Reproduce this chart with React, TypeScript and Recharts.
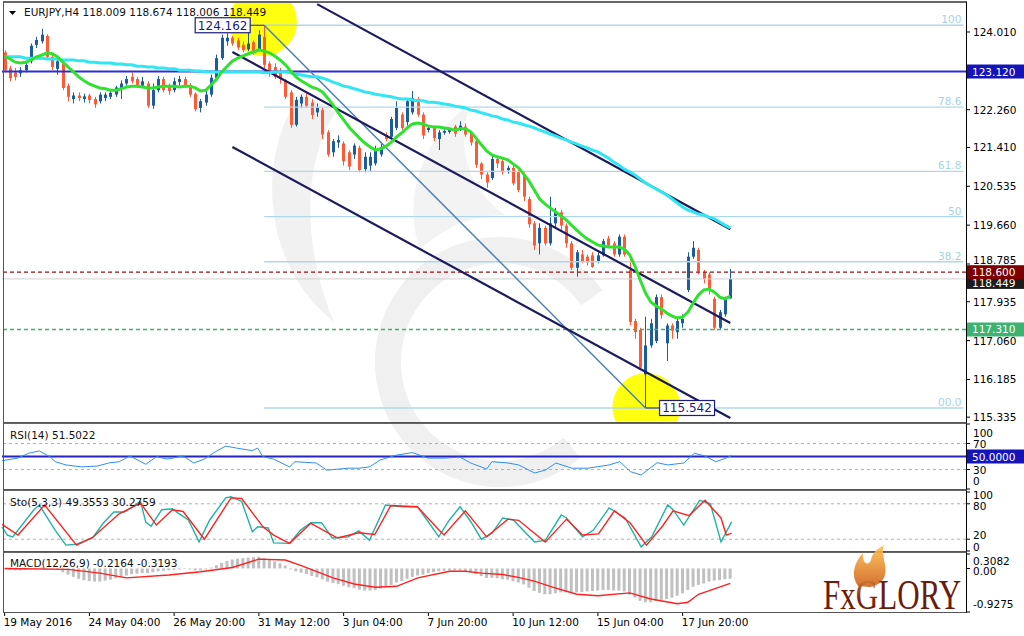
import React from 'react';
import { ComposedChart, Bar, Line, XAxis, YAxis, ReferenceLine, ReferenceDot } from 'recharts';

const FONT = '"DejaVu Sans", Verdana, sans-serif';
const W = 1024;
const SLOTS = 182; // bars + empty space to the right (chart shift)
const AXIS_X = 966;

// EURJPY H4 candles, 19 May -> 20 Jun 2016
const opens = [
  123.55, 123.19, 123.10, 123.08, 123.15, 123.35, 123.72, 123.80, 123.92, 123.45,
  123.18, 123.30, 122.80, 122.50, 122.58, 122.50, 122.58, 122.50, 122.45, 122.52,
  122.55, 122.60, 122.72, 122.85, 123.00, 122.95, 122.80, 122.85, 122.35, 122.70,
  122.95, 122.80, 122.70, 122.88, 122.95, 122.82, 122.62, 122.30, 122.42, 122.60,
  122.98, 123.42, 123.80, 123.88, 123.82, 123.72, 123.62, 123.78, 123.62, 123.90,
  123.30, 123.22, 123.12, 122.92, 122.65, 121.92, 122.40, 122.55, 122.42, 122.20,
  122.25, 121.75, 121.30, 121.52, 121.50, 121.30, 121.25, 121.40, 120.92, 121.00,
  121.05, 121.25, 121.68, 121.65, 121.85, 122.15, 121.98, 122.20, 122.50, 122.15,
  121.80, 121.85, 121.60, 121.74, 121.76, 121.88, 121.82, 121.88, 121.75, 121.55,
  121.05, 120.80, 120.72, 121.15, 121.10, 120.90, 120.95, 120.85, 120.80, 120.25,
  119.70, 119.25, 119.60, 119.25, 119.70, 119.95, 119.65, 119.25, 118.70, 119.00,
  118.95, 118.98, 118.85, 118.98, 119.36, 119.25, 119.00, 119.40, 118.65, 117.50,
  117.30, 116.30, 116.95, 117.05, 118.04, 117.00, 117.40, 117.25, 117.45, 118.20,
  118.95, 119.10, 118.60, 118.55, 118.00, 117.35, 117.65, 118.009,
];
const highs = [
  123.60, 123.25, 123.20, 123.22, 123.32, 123.75, 123.90, 124.08, 123.96, 123.50,
  123.40, 123.35, 122.85, 122.65, 122.65, 122.62, 122.62, 122.55, 122.65, 122.65,
  122.70, 122.80, 122.92, 123.02, 123.10, 123.00, 123.00, 122.90, 122.85, 123.02,
  123.00, 122.85, 122.98, 123.02, 123.00, 122.86, 122.65, 122.50, 122.70, 123.05,
  123.50, 123.95, 123.98, 123.92, 123.88, 123.80, 124.10, 123.82, 124.05, 124.162,
  123.35, 123.30, 123.20, 122.95, 122.70, 122.55, 122.60, 122.65, 122.50, 122.40,
  122.30, 121.80, 121.60, 121.68, 121.55, 121.35, 121.50, 121.45, 121.30, 121.30,
  121.45, 121.50, 121.75, 122.10, 122.45, 122.20, 122.50, 122.68, 122.55, 122.20,
  121.90, 121.90, 121.80, 121.82, 121.85, 121.92, 122.00, 121.95, 121.78, 121.60,
  121.08, 120.85, 121.22, 121.20, 121.15, 121.00, 121.00, 120.90, 120.85, 120.30,
  119.75, 119.70, 119.65, 120.30, 120.05, 120.00, 119.70, 119.30, 119.10, 119.10,
  119.00, 119.05, 119.05, 119.35, 119.42, 119.30, 119.45, 119.45, 119.00, 117.55,
  117.35, 117.60, 117.55, 118.10, 118.10, 117.45, 117.45, 117.60, 117.65, 119.05,
  119.30, 119.15, 118.65, 118.60, 118.05, 117.75, 118.05, 118.674,
];
const lows = [
  123.10, 122.90, 122.92, 123.00, 123.10, 123.30, 123.65, 123.75, 123.40, 123.15,
  123.05, 122.70, 122.45, 122.40, 122.45, 122.42, 122.40, 122.30, 122.40, 122.45,
  122.50, 122.55, 122.50, 122.80, 122.85, 122.75, 122.75, 122.30, 122.28, 122.65,
  122.65, 122.60, 122.65, 122.80, 122.75, 122.55, 122.22, 122.20, 122.35, 122.55,
  122.90, 123.38, 123.70, 123.70, 123.60, 123.55, 123.58, 123.50, 123.58, 123.20,
  123.00, 122.95, 122.85, 122.50, 121.85, 121.88, 122.30, 122.30, 122.05, 122.10,
  121.60, 121.20, 121.20, 121.40, 121.00, 120.90, 121.15, 120.85, 120.85, 120.88,
  121.00, 121.20, 121.55, 121.60, 121.80, 121.80, 121.90, 122.15, 122.10, 121.60,
  121.75, 121.55, 121.35, 121.70, 121.72, 121.65, 121.78, 121.65, 121.45, 120.95,
  120.70, 120.50, 120.68, 120.95, 120.80, 120.82, 120.55, 120.40, 120.20, 119.60,
  119.10, 119.00, 119.20, 119.20, 119.60, 119.55, 119.15, 118.65, 118.50, 118.80,
  118.75, 118.70, 118.80, 118.95, 119.15, 118.95, 118.95, 118.95, 117.40, 117.10,
  116.40, 115.542, 116.90, 117.00, 117.55, 116.60, 117.10, 117.10, 117.35, 118.15,
  118.90, 118.55, 118.35, 118.10, 117.30, 117.30, 117.60, 118.006,
];
const closes = [
  123.15, 122.97, 123.00, 123.15, 123.27, 123.70, 123.83, 123.95, 123.45, 123.22,
  123.35, 122.75, 122.55, 122.58, 122.52, 122.56, 122.48, 122.38, 122.60, 122.60,
  122.64, 122.76, 122.85, 122.95, 122.90, 122.82, 122.90, 122.35, 122.70, 122.95,
  122.70, 122.68, 122.90, 122.95, 122.80, 122.60, 122.27, 122.45, 122.60, 122.98,
  123.42, 123.88, 123.88, 123.75, 123.66, 123.60, 123.75, 123.58, 123.95, 123.27,
  123.10, 123.00, 122.95, 122.55, 121.92, 122.48, 122.55, 122.35, 122.14, 122.30,
  121.70, 121.25, 121.55, 121.58, 121.10, 120.98, 121.45, 120.90, 121.20, 121.20,
  121.35, 121.42, 121.60, 122.05, 122.30, 121.85, 122.45, 122.52, 122.15, 121.68,
  121.85, 121.62, 121.75, 121.78, 121.80, 121.72, 121.90, 121.70, 121.52, 121.02,
  120.80, 120.62, 121.15, 121.05, 120.85, 120.95, 120.60, 120.45, 120.30, 119.68,
  119.20, 119.60, 119.25, 119.70, 119.95, 119.65, 119.25, 118.70, 119.05, 118.85,
  118.82, 118.72, 118.98, 119.30, 119.20, 119.00, 119.40, 119.00, 117.48, 117.25,
  116.45, 116.95, 117.45, 118.04, 117.64, 117.40, 117.28, 117.50, 117.55, 118.95,
  119.15, 118.62, 118.45, 118.20, 117.35, 117.70, 117.98, 118.449,
];

// moving averages (green = fast, cyan = slow)
const fastMA = [
  123.47, 123.40, 123.33, 123.31, 123.33, 123.38, 123.45, 123.49, 123.54, 123.52,
  123.45, 123.33, 123.22, 123.11, 123.00, 122.91, 122.84, 122.79, 122.75, 122.73,
  122.70, 122.70, 122.73, 122.77, 122.79, 122.79, 122.77, 122.75, 122.75, 122.77,
  122.79, 122.79, 122.79, 122.77, 122.79, 122.79, 122.75, 122.68, 122.70, 122.82,
  122.95, 123.11, 123.24, 123.36, 123.42, 123.47, 123.52, 123.56, 123.61, 123.58,
  123.54, 123.47, 123.38, 123.27, 123.13, 123.00, 122.91, 122.84, 122.77, 122.73,
  122.66, 122.52, 122.37, 122.19, 122.03, 121.87, 121.74, 121.62, 121.51, 121.42,
  121.35, 121.38, 121.44, 121.53, 121.65, 121.74, 121.85, 121.94, 121.96, 121.94,
  121.89, 121.87, 121.87, 121.85, 121.83, 121.80, 121.83, 121.83, 121.76, 121.62,
  121.47, 121.33, 121.24, 121.20, 121.17, 121.13, 121.04, 120.95, 120.81, 120.65,
  120.45, 120.25, 120.14, 120.05, 119.96, 119.87, 119.78, 119.66, 119.55, 119.44,
  119.35, 119.28, 119.21, 119.19, 119.17, 119.17, 119.17, 119.12, 118.99, 118.74,
  118.42, 118.13, 117.93, 117.84, 117.77, 117.68, 117.61, 117.57, 117.59, 117.70,
  117.91, 118.09, 118.20, 118.22, 118.15, 118.04, 118.00, 118.06,
];
const slowMA = [
  123.45, 123.45, 123.45, 123.45, 123.42, 123.42, 123.42, 123.42, 123.40, 123.40,
  123.40, 123.38, 123.38, 123.38, 123.36, 123.36, 123.33, 123.33, 123.31, 123.31,
  123.31, 123.29, 123.29, 123.27, 123.27, 123.24, 123.24, 123.22, 123.22, 123.20,
  123.20, 123.18, 123.18, 123.15, 123.15, 123.15, 123.13, 123.13, 123.11, 123.11,
  123.11, 123.11, 123.11, 123.11, 123.11, 123.11, 123.11, 123.11, 123.11, 123.09,
  123.09, 123.11, 123.11, 123.11, 123.09, 123.06, 123.04, 123.02, 123.00, 123.00,
  122.97, 122.93, 122.88, 122.84, 122.79, 122.77, 122.73, 122.70, 122.66, 122.64,
  122.61, 122.59, 122.57, 122.55, 122.52, 122.50, 122.50, 122.48, 122.46, 122.46,
  122.43, 122.43, 122.41, 122.39, 122.37, 122.34, 122.32, 122.30, 122.25, 122.23,
  122.19, 122.16, 122.12, 122.10, 122.05, 122.03, 121.98, 121.96, 121.92, 121.89,
  121.85, 121.80, 121.76, 121.71, 121.67, 121.62, 121.58, 121.53, 121.49, 121.44,
  121.40, 121.35, 121.31, 121.24, 121.17, 121.08, 121.01, 120.92, 120.86, 120.79,
  120.70, 120.61, 120.54, 120.47, 120.41, 120.34, 120.25, 120.16, 120.07, 120.00,
  119.96, 119.91, 119.89, 119.84, 119.80, 119.73, 119.66, 119.60,
];

// indicator readings as [bar, value]
const rsiPoints = [
  [0, 43.5], [3, 47.6], [5, 55], [7, 58.5], [9, 49.7], [10, 42], [12, 37], [15, 34], [18, 35.4],
  [20, 40], [22, 42], [24, 50.8], [27, 38], [29, 49.7], [31, 46], [34, 50.8], [36, 40], [38, 46],
  [40, 57], [42, 66], [44, 63], [47, 59], [48, 63], [49, 49.7], [51, 46], [54, 34], [55, 42],
  [59, 40], [61, 29], [65, 32], [67, 32], [69, 34], [71, 44.6], [74, 52], [77, 56], [80, 47.6],
  [83, 47.6], [86, 49], [88, 40], [91, 30.8], [92, 42], [95, 40], [97, 37], [100, 24.6], [102, 29],
  [104, 40], [107, 32], [110, 32], [114, 37], [116, 42], [118, 26.7], [120, 21.5], [123, 40.5],
  [125, 37], [128, 40], [130, 55], [132, 50.8], [134, 42], [136, 47.6], [137, 51.5],
];
const stochKPoints = [
  [0, 41], [1, 27], [2, 24], [6, 70], [7, 78], [10, 35], [12, 10], [14, 11.5], [17, 22], [19, 47],
  [21, 66], [23, 66], [26, 84], [27, 49], [28, 42], [30, 70], [32, 71.5], [33, 64.6], [35, 52.6],
  [37, 15.4], [39, 52.6], [42, 90], [43, 92], [45, 84], [47, 32.6], [48, 41], [50, 39], [51, 13.7],
  [54, 13], [56, 35], [58, 48], [60, 48], [62, 22], [65, 24], [67, 34], [69, 18], [72, 78], [75, 75],
  [78, 75], [80, 50], [82, 24], [84, 52.6], [86, 75], [88, 50], [90, 20], [92, 30], [94, 56],
  [96, 52.6], [100, 15.4], [102, 18], [105, 61], [106, 56], [109, 24], [111, 35], [114, 73],
  [117, 56], [120, 7], [122, 24], [125, 78], [126, 70], [128, 44], [131, 86], [133, 80], [135, 15.4],
  [137, 49.36],
];
const stochDPoints = [
  [0, 45], [3, 27], [8, 78], [14, 10], [17, 23], [22, 63], [26, 81], [29, 44], [32, 70], [34, 67],
  [38, 20], [43, 90], [45, 89], [49, 41], [51, 27], [54, 13], [58, 47], [63, 22], [67, 31], [70, 28],
  [73, 77], [78, 75], [82, 36], [83, 27], [87, 68], [91, 24], [95, 54], [97, 52], [102, 15],
  [106, 54], [109, 27], [112, 29], [115, 68], [118, 47], [121, 10], [124, 42], [126, 68], [129, 60],
  [132, 86], [135, 56], [136, 27], [137, 30.28],
];
const macdHist = [
  -0.02, -0.03, -0.04, -0.04, -0.03, -0.01, 0.01, 0.02, 0.01, -0.01,
  -0.03, -0.08, -0.13, -0.18, -0.22, -0.25, -0.27, -0.28, -0.28, -0.26,
  -0.24, -0.21, -0.18, -0.15, -0.12, -0.11, -0.10, -0.10, -0.08, -0.06,
  -0.05, -0.04, -0.03, -0.02, -0.01, -0.02, -0.04, -0.04, -0.02, 0.02,
  0.07, 0.12, 0.16, 0.19, 0.21, 0.22, 0.23, 0.24, 0.25, 0.22,
  0.19, 0.15, 0.11, 0.06, -0.02, -0.06, -0.09, -0.12, -0.16, -0.19,
  -0.23, -0.28, -0.31, -0.33, -0.37, -0.40, -0.42, -0.45, -0.47, -0.47,
  -0.46, -0.43, -0.39, -0.35, -0.30, -0.27, -0.22, -0.18, -0.15, -0.13,
  -0.10, -0.08, -0.06, -0.05, -0.04, -0.04, -0.04, -0.05, -0.08, -0.12,
  -0.16, -0.20, -0.20, -0.21, -0.23, -0.24, -0.27, -0.30, -0.34, -0.41,
  -0.48, -0.52, -0.55, -0.55, -0.53, -0.51, -0.51, -0.52, -0.51, -0.50,
  -0.49, -0.48, -0.47, -0.46, -0.46, -0.47, -0.47, -0.49, -0.56, -0.62,
  -0.69, -0.72, -0.72, -0.69, -0.67, -0.65, -0.62, -0.58, -0.53, -0.46,
  -0.39, -0.35, -0.32, -0.28, -0.26, -0.25, -0.23, -0.2164,
];
const macdSignalPoints = [
  [0, 0], [12, -0.02], [18, -0.10], [23, -0.20], [31, -0.14], [37, -0.07], [43, 0.02], [48, 0.20],
  [53, 0.18], [56, 0.06], [62, -0.20], [66, -0.33], [70, -0.40], [74, -0.38], [78, -0.20],
  [84, -0.06], [87, -0.06], [90, -0.10], [94, -0.13], [97, -0.19], [100, -0.27], [103, -0.38],
  [108, -0.55], [112, -0.58], [118, -0.52], [122, -0.65], [127, -0.75], [129, -0.72], [131, -0.55],
  [137, -0.3193],
];

const dateTickBars = [0, 16, 32, 48, 64, 80, 96, 112, 128];
const dateTickLabels = ['19 May 2016', '24 May 04:00', '26 May 20:00', '31 May 12:00', '3 Jun 04:00', '7 Jun 20:00', '10 Jun 12:00', '15 Jun 04:00', '17 Jun 20:00'];
const priceTicks = [124.01, 122.26, 121.41, 120.535, 119.66, 117.935, 117.06, 116.185, 115.335];
const PRICE_MIN = 115.249;
const PRICE_MAX = 124.663;

// fibonacci retracement 124.162 -> 115.542
const fibNames = ['100', '78.6', '61.8', '50', '38.2', '00.0'];
const fibPrices = [124.162, 122.318, 120.869, 119.852, 118.835, 115.542];
const fibStartBar = 49;

// trend channel + fib diagonal: [bar1, price1, bar2, price2]
const channelUpper = [59, 124.638, 137, 119.568];
const channelMiddle = [43, 123.56, 137, 117.456];
const channelLower = [43, 121.42, 137, 115.316];
const fibDiagonal = [49, 124.162, 121, 115.542];

const highlightBars = [49, 121];
const highlightPrices = [124.235, 115.564];

const BULL = '#1d5c9c';
const BEAR = '#ff5a35';

const mainRows = Array.from({ length: SLOTS }, (_, i) =>
  i < opens.length
    ? { i, range: [lows[i], highs[i]], open: opens[i], high: highs[i], low: lows[i], close: closes[i], fast: fastMA[i], slow: slowMA[i] }
    : { i }
);
const toMap = (pts: number[][]) => new Map(pts.map((p) => [p[0], p[1]]));
const rsiMap = toMap(rsiPoints);
const kMap = toMap(stochKPoints);
const dMap = toMap(stochDPoints);
const sigMap = toMap(macdSignalPoints);
const rsiRows = Array.from({ length: SLOTS }, (_, i) => ({ i, rsi: rsiMap.get(i) }));
const stochRows = Array.from({ length: SLOTS }, (_, i) => ({ i, k: kMap.get(i), d: dMap.get(i) }));
const macdRows = Array.from({ length: SLOTS }, (_, i) => ({ i, hist: macdHist[i], sig: sigMap.get(i) }));

const Candle = (props: any) => {
  const { x, y, width, height, payload } = props;
  if (!payload || payload.open == null || !height) return null;
  const k = height / (payload.high - payload.low);
  const yO = y + (payload.high - payload.open) * k;
  const yC = y + (payload.high - payload.close) * k;
  const color = payload.close >= payload.open ? BULL : BEAR;
  const cx = Math.round(x + width / 2) + 0.5;
  return (
    <g>
      <line x1={cx} x2={cx} y1={y} y2={y + height} stroke={color} strokeWidth={1} />
      <rect x={cx - 1.5} y={Math.min(yO, yC)} width={3} height={Math.max(1, Math.abs(yC - yO))} fill={color} />
    </g>
  );
};

const txt = { fontFamily: FONT, fontSize: 10.5 };

const PriceTick = (props: any) => {
  const { y, payload } = props;
  return (
    <g>
      <line x1={AXIS_X} x2={AXIS_X + 4} y1={y} y2={y} stroke="#000" />
      <text x={AXIS_X + 7} y={y + 4} fill="#000" {...txt}>{payload.value.toFixed(3)}</text>
    </g>
  );
};

const makeTick = (labels: Record<string, string>, shifts: Record<string, number>) => (props: any) => {
  const { y, payload } = props;
  const key = String(payload.value);
  return (
    <g>
      <line x1={AXIS_X} x2={AXIS_X + 4} y1={y} y2={y} stroke="#000" />
      <text x={AXIS_X + 7} y={y + 4 + (shifts[key] || 0)} fill="#000" {...txt}>{labels[key]}</text>
    </g>
  );
};

const axisBox = (text: string, bg: string) => (props: any) => {
  const y = props.viewBox.y;
  return (
    <g>
      <rect x={AXIS_X + 1} y={y - 7} width={57} height={14} fill={bg} />
      <text x={AXIS_X + 6} y={y + 4} fill="#fff" {...txt}>{text}</text>
    </g>
  );
};

// bid line label; the 118.785 axis tick sits just above the level boxes
const bidBox = (props: any) => {
  const y = props.viewBox.y;
  const pxPerUnit = 418 / (PRICE_MAX - PRICE_MIN);
  const yTick = y - (118.785 - 118.449) * pxPerUnit;
  return (
    <g>
      <line x1={AXIS_X} x2={AXIS_X + 4} y1={yTick} y2={yTick} stroke="#000" />
      <text x={AXIS_X + 7} y={yTick + 0.5} fill="#000" {...txt}>118.785</text>
      <rect x={AXIS_X + 1} y={y - 2} width={57} height={12} fill="#1c1c1c" />
      <text x={AXIS_X + 6} y={y + 8.5} fill="#fff" {...txt}>118.449</text>
    </g>
  );
};

const PriceLabel = (side: 'left' | 'right', text: string) => (p: any) => {
  const bx = side === 'left' ? p.cx - 69 : p.cx + 14;
  const lx = side === 'left' ? p.cx - 14 : p.cx + 14;
  return (
    <g>
      <line x1={lx} x2={p.cx} y1={p.cy} y2={p.cy} stroke="#1c1c80" />
      <rect x={bx} y={p.cy - 7.5} width={55} height={15} fill="#fff" stroke="#1c1c80" strokeWidth={1.2} />
      <text x={bx + 27.5} y={p.cy + 4.5} textAnchor="middle" fill="#1c1c80" fontFamily={FONT} fontSize={12}>{text}</text>
    </g>
  );
};

const DateTick = (props: any) => {
  const { x, payload } = props;
  const idx = dateTickBars.indexOf(payload.value);
  return (
    <g>
      <line x1={x} x2={x} y1={60} y2={64} stroke="#000" />
      <text x={x - 1} y={74} fill="#000" {...txt}>{dateTickLabels[idx]}</text>
    </g>
  );
};

const seg = (s: number[]) => [{ x: s[0], y: s[1] }, { x: s[2], y: s[3] }];

const abs = (top: number): React.CSSProperties => ({ position: 'absolute', left: 0, top });

const panel = (top: number, height: number, extraTop = 1): React.CSSProperties => ({
  position: 'absolute', left: 3, top, width: 964, height, boxSizing: 'border-box',
  borderLeft: '1px solid #555', borderBottom: '1px solid #555', borderTop: `${extraTop}px solid #666`,
  borderRight: '1px solid #000', pointerEvents: 'none',
});

export default function App() {
  return (
    <div style={{ position: 'absolute', left: 0, top: 0, width: W, height: 636, background: '#fff', overflow: 'hidden' }}>
      {/* faint broker watermark behind the price panel */}
      <svg width={W} height={490} style={{ position: 'absolute', left: 0, top: 0 }}>
        <path d="M591.7,297.8 A112,112 0 1 0 572,447.8" fill="none" stroke="#f0f0f0" strokeWidth={26} />
        <path d="M302,92 C258,150 258,262 334,322 C304,252 300,166 336,112 Z" fill="#f1f1f1" />
        <path d="M420,250 C400,190 430,130 470,105 C455,150 470,190 505,215 C470,215 440,230 420,250 Z" fill="#f3f3f3" />
      </svg>

      {/* highlight circles under the candles */}
      <div style={abs(0)}>
        <ComposedChart width={W} height={424} data={mainRows} margin={{ top: 3, right: 58, bottom: 3, left: 2 }}>
          <XAxis dataKey="i" type="category" hide />
          <YAxis hide domain={[PRICE_MIN, PRICE_MAX]} allowDataOverflow />
          <Line dataKey="close" stroke="none" dot={false} isAnimationActive={false} />
          {highlightBars.map((b, k) => (
            <ReferenceDot key={k} x={b} y={highlightPrices[k]} r={34} fill="#ffff10" stroke="none" ifOverflow="hidden" />
          ))}
        </ComposedChart>
      </div>

      <div style={abs(0)}>
        <ComposedChart width={W} height={424} data={mainRows} margin={{ top: 3, right: 0, bottom: 3, left: 2 }}>
          <XAxis dataKey="i" type="category" hide />
          <YAxis orientation="right" width={58} domain={[PRICE_MIN, PRICE_MAX]} allowDataOverflow ticks={priceTicks}
            interval={0} tick={PriceTick} axisLine={false} tickLine={false} />
          {fibPrices.map((p, k) => (
            <ReferenceLine key={'f' + k} segment={seg([fibStartBar, p, SLOTS - 1, p])} stroke="#aed8ea" strokeWidth={1.3}
              label={{ value: fibNames[k], position: 'insideBottomRight', offset: 2, fill: '#a6d2e6', fontSize: 10.5, fontFamily: FONT }} />
          ))}
          <ReferenceLine y={118.449} stroke="#d0d0d0" label={bidBox} />
          <ReferenceLine y={123.12} stroke="#2c2cd8" strokeWidth={2} label={axisBox('123.120', '#1414b8')} />
          <ReferenceLine y={118.6} stroke="#9a1010" strokeDasharray="4 3" strokeWidth={1.3} label={axisBox('118.600', '#7d0000')} />
          <ReferenceLine y={117.31} stroke="#3cb371" strokeDasharray="4 3" strokeWidth={1.3} label={axisBox('117.310', '#3cb371')} />
          <ReferenceLine segment={seg(fibDiagonal)} stroke="#4a80b6" strokeWidth={1.5} />
          <ReferenceLine segment={seg(channelUpper)} stroke="#1b1b5e" strokeWidth={2.2} />
          <ReferenceLine segment={seg(channelMiddle)} stroke="#1b1b5e" strokeWidth={2.2} />
          <ReferenceLine segment={seg(channelLower)} stroke="#1b1b5e" strokeWidth={2.2} />
          <Bar dataKey="range" barSize={3} shape={Candle} isAnimationActive={false} />
          <Line dataKey="slow" stroke="#2fe6f2" strokeWidth={3} dot={false} isAnimationActive={false} />
          <Line dataKey="fast" stroke="#2fe22f" strokeWidth={3} dot={false} isAnimationActive={false} />
          <ReferenceDot x={49} y={124.162} r={1} shape={PriceLabel('left', '124.162')} />
          <ReferenceDot x={121} y={115.542} r={1} shape={PriceLabel('right', '115.542')} />
        </ComposedChart>
      </div>

      <div style={abs(423)}>
        <ComposedChart width={W} height={67} data={rsiRows} margin={{ top: 1, right: 0, bottom: 1, left: 2 }}>
          <XAxis dataKey="i" type="category" hide />
          <YAxis orientation="right" width={58} domain={[0, 100]} allowDataOverflow ticks={[100, 70, 30, 0]} interval={0}
            tick={makeTick({ '100': '100', '70': '70', '30': '30', '0': '0' }, { '100': 9, '0': -8 })} axisLine={false} tickLine={false} />
          <ReferenceLine y={70} stroke="#b0b0b0" strokeDasharray="3 3" />
          <ReferenceLine y={30} stroke="#b0b0b0" strokeDasharray="3 3" />
          <ReferenceLine y={50} stroke="#2424c8" strokeWidth={2} label={axisBox('50.0000', '#1414b8')} />
          <Line dataKey="rsi" stroke="#2e8ff0" strokeWidth={1} dot={false} connectNulls isAnimationActive={false} />
        </ComposedChart>
      </div>

      <div style={abs(490)}>
        <ComposedChart width={W} height={62} data={stochRows} margin={{ top: 2, right: 0, bottom: 1, left: 2 }}>
          <XAxis dataKey="i" type="category" hide />
          <YAxis orientation="right" width={58} domain={[0, 100]} allowDataOverflow ticks={[100, 80, 20, 0]} interval={0}
            tick={makeTick({ '100': '100', '80': '80', '20': '20', '0': '0' }, { '100': 3, '80': 2, '20': -4, '0': -4 })}
            axisLine={false} tickLine={false} />
          <ReferenceLine y={80} stroke="#b0b0b0" strokeDasharray="3 3" />
          <ReferenceLine y={20} stroke="#b0b0b0" strokeDasharray="3 3" />
          <Line dataKey="k" stroke="#22b2a6" strokeWidth={1.4} dot={false} connectNulls isAnimationActive={false} />
          <Line dataKey="d" stroke="#ff2222" strokeWidth={1.4} dot={false} connectNulls isAnimationActive={false} />
        </ComposedChart>
      </div>

      <div style={abs(552)}>
        <ComposedChart width={W} height={84} data={macdRows} margin={{ top: 2, right: 0, bottom: 2, left: 2 }}>
          <XAxis dataKey="i" type="category" height={22} ticks={dateTickBars} interval={0} tick={DateTick}
            axisLine={false} tickLine={false} />
          <YAxis orientation="right" width={58} domain={[-0.9275, 0.3082]} allowDataOverflow ticks={[0.3082, 0, -0.9275]} interval={0}
            tick={makeTick({ '0.3082': '0.3082', '0': '0.00', '-0.9275': '-0.9275' }, { '0.3082': 7, '0': 3, '-0.9275': -8 })}
            axisLine={false} tickLine={false} />
          <Bar dataKey="hist" barSize={3} fill="#c0c0c0" isAnimationActive={false} />
          <Line dataKey="sig" stroke="#ff2020" strokeWidth={1.4} dot={false} connectNulls isAnimationActive={false} />
        </ComposedChart>
      </div>

      <div style={panel(1, 422, 2)} />
      <div style={panel(423, 67)} />
      <div style={panel(490, 62)} />
      <div style={panel(552, 61)} />

      <svg width={W} height={636} style={{ position: 'absolute', left: 0, top: 0, pointerEvents: 'none' }}>
        <defs>
          <linearGradient id="flame" x1="0" y1="1" x2="0" y2="0">
            <stop offset="0" stopColor="#d0601a" />
            <stop offset="1" stopColor="#ffc050" />
          </linearGradient>
          <linearGradient id="gletter" x1="0" y1="0" x2="0" y2="1">
            <stop offset="0" stopColor="#f0a040" />
            <stop offset="0.55" stopColor="#8a2a0c" />
            <stop offset="1" stopColor="#5e1a08" />
          </linearGradient>
        </defs>
        <path d="M9,11 L16,11 L12.5,15 Z" fill="#000" />
        <text x={24} y={16} fill="#111" {...txt}>EURJPY,H4  118.009 118.674 118.006 118.449</text>
        <text x={10} y={439} fill="#111" {...txt}>RSI(14) 51.5022</text>
        <text x={10} y={506} fill="#111" {...txt}>Sto(5,3,3) 49.3553 30.2759</text>
        <text x={10} y={567} fill="#111" {...txt}>MACD(12,26,9) -0.2164 -0.3193</text>
        <path d="M858,586 C850,574 855,562 863,553 C862,563 868,567 871,560 C872,552 879,548 884,545 C880,556 889,566 884,578 C881,583 876,586 870,587 Z"
          fill="url(#flame)" opacity={0.9} />
        <g transform="translate(823,609) scale(0.74,1)">
          <text x={0} y={0} fontFamily='"Liberation Serif", "DejaVu Serif", serif' fontSize={42}>
            <tspan fill="#6a1c0a">Fx</tspan>
            <tspan fill="url(#gletter)">G</tspan>
            <tspan fill="#6a1c0a">LORY</tspan>
          </text>
        </g>
      </svg>
    </div>
  );
}
